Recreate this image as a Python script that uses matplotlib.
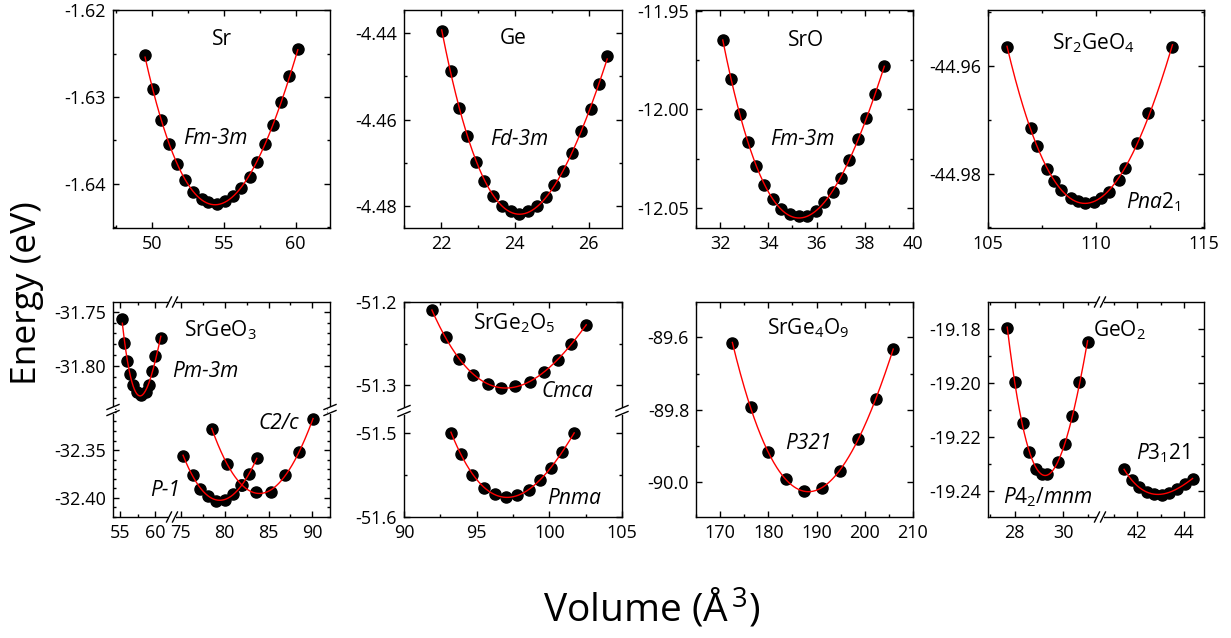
import numpy as np
import matplotlib.pyplot as plt
from matplotlib.ticker import MultipleLocator, FormatStrFormatter

plt.rcParams['font.family'] = ['Open Sans', 'DejaVu Sans']
plt.rcParams['mathtext.fontset'] = 'custom'
plt.rcParams['mathtext.rm'] = 'Open Sans'
plt.rcParams['mathtext.it'] = 'Open Sans:italic'
plt.rcParams['axes.unicode_minus'] = False
plt.rcParams['axes.linewidth'] = 1.0

# ---- data (volume in A^3, energy in eV) ----
sr_v = [49.53, 50.05, 50.61, 51.19, 51.75, 52.31, 52.90, 53.46, 53.93, 54.51,
        55.09, 55.65, 56.24, 56.80, 57.31, 57.87, 58.43, 59.02, 59.58, 60.16]
sr_e = [-1.6251, -1.6291, -1.6326, -1.6354, -1.6377, -1.6396, -1.6409, -1.6417, -1.6421, -1.6423,
        -1.6420, -1.6414, -1.6405, -1.6392, -1.6375, -1.6354, -1.6332, -1.6306, -1.6276, -1.6245]

ge_v = [22.02, 22.28, 22.49, 22.70, 22.94, 23.17, 23.42, 23.65, 23.89, 24.12,
        24.36, 24.59, 24.84, 25.07, 25.31, 25.56, 25.80, 26.06, 26.28, 26.50]
ge_e = [-4.4394, -4.4488, -4.4572, -4.4638, -4.4697, -4.4743, -4.4776, -4.4799, -4.4812, -4.4818,
        -4.4812, -4.4799, -4.4780, -4.4751, -4.4719, -4.4677, -4.4627, -4.4575, -4.4517, -4.4453]

sro_v = [32.11, 32.47, 32.81, 33.14, 33.47, 33.82, 34.19, 34.54, 34.90, 35.26,
         35.61, 35.97, 36.32, 36.67, 37.03, 37.36, 37.71, 38.07, 38.43, 38.81]
sro_e = [-11.9647, -11.9845, -12.0025, -12.0166, -12.0287, -12.0382, -12.0456, -12.0507, -12.0532, -12.0544,
         -12.0541, -12.0517, -12.0473, -12.0419, -12.0348, -12.0257, -12.0152, -12.0046, -11.9921, -11.9780]

s2g_v = [105.88, 106.98, 107.29, 107.72, 108.06, 108.40, 108.86, 109.15, 109.51,
         109.91, 110.25, 110.60, 111.05, 111.35, 111.89, 112.42, 113.54]
s2g_e = [-44.9566, -44.9716, -44.9749, -44.9792, -44.9814, -44.9831, -44.9845, -44.9851, -44.9854,
         -44.9852, -44.9846, -44.9835, -44.9812, -44.9790, -44.9744, -44.9688, -44.9565]

# SrGeO3: Pm-3m, P-1, C2/c
pm3m_v = [55.33, 55.57, 56.04, 56.43, 56.90, 57.38, 58.00, 58.71, 59.19, 59.62, 60.00, 60.81]
pm3m_e = [-31.7572, -31.7785, -31.7956, -31.8081, -31.8175, -31.8244, -31.8275, -31.8244,
          -31.8181, -31.8050, -31.7910, -31.7744]
p1_v = [75.26, 76.44, 77.16, 78.15, 79.06, 80.05, 80.96, 81.95, 82.78, 83.66]
p1_e = [-32.3562, -32.3759, -32.3904, -32.3983, -32.4028, -32.4017, -32.3959, -32.3862, -32.3752, -32.3586]
c2c_v = [78.53, 80.31, 81.90, 83.54, 85.25, 86.88, 88.47, 90.07]
c2c_e = [-32.3275, -32.3648, -32.3862, -32.3938, -32.3938, -32.3759, -32.3517, -32.3172]

# SrGe2O5: Cmca, Pnma
cmca_v = [91.92, 92.86, 93.81, 94.78, 95.75, 96.70, 97.67, 98.64, 99.61, 100.58, 101.52, 102.54]
cmca_e = [-51.2092, -51.2422, -51.2681, -51.2869, -51.2980, -51.3028, -51.3008, -51.2960,
          -51.2841, -51.2689, -51.2498, -51.2271]
pnma_v = [93.23, 93.95, 94.71, 95.50, 96.23, 97.02, 97.78, 98.59, 99.35, 100.09, 100.90, 101.71]
pnma_e = [-51.5000, -51.5252, -51.5500, -51.5660, -51.5732, -51.5768, -51.5748, -51.5680,
          -51.5560, -51.5420, -51.5228, -51.5000]

s4g_v = [172.54, 176.31, 179.95, 183.59, 187.30, 191.07, 194.85, 198.56, 202.26, 205.90]
s4g_e = [-89.6147, -89.7931, -89.9154, -89.9917, -90.0230, -90.0147, -89.9678, -89.8814, -89.7701, -89.6331]

# GeO2: P4_2/mnm, P3_121
rut_v = [27.69, 28.00, 28.33, 28.57, 28.87, 29.12, 29.32, 29.77, 30.07, 30.37, 30.65, 30.99]
rut_e = [-19.1798, -19.1997, -19.2149, -19.2256, -19.2320, -19.2338, -19.2336, -19.2293,
         -19.2225, -19.2123, -19.1997, -19.1850]
qtz_v = [41.43, 41.76, 42.07, 42.40, 42.73, 43.05, 43.37, 43.69, 44.02, 44.36]
qtz_e = [-19.2320, -19.2360, -19.2385, -19.2403, -19.2412, -19.2413, -19.2406, -19.2391, -19.2373, -19.2355]

# ---- layout in pixels ----
W, H = 1231, 638
cols = [(113, 330), (404, 622), (696, 913), (988, 1204)]
rows = [(10, 228), (302, 517)]

fig = plt.figure(figsize=(W / 100, H / 100), dpi=100)


def rect(l, t, r, b):
    return [l / W, 1 - b / H, (r - l) / W, (b - t) / H]


def style(ax, xmaj, ymaj, yfmt, sides):
    ax.xaxis.set_major_locator(MultipleLocator(xmaj))
    ax.xaxis.set_minor_locator(MultipleLocator(xmaj / 2))
    ax.yaxis.set_major_locator(MultipleLocator(ymaj))
    ax.yaxis.set_minor_locator(MultipleLocator(ymaj / 2))
    ax.yaxis.set_major_formatter(FormatStrFormatter(yfmt))
    ax.xaxis.set_major_formatter(FormatStrFormatter('%d'))
    left, right, top, bottom = sides
    ax.tick_params(which='both', direction='in', left=left, right=right, top=top, bottom=bottom,
                   labelleft=left, labelbottom=bottom, labelsize=13, pad=5)
    ax.tick_params(which='major', length=4, width=1)
    ax.tick_params(which='minor', length=2.5, width=1)
    for s, on in zip(['left', 'right', 'top', 'bottom'], sides):
        ax.spines[s].set_visible(on)


def curve(ax, v, e):
    c = np.polyfit(v, e, 3)
    vv = np.linspace(min(v), max(v), 200)
    ax.plot(v, e, 'o', color='black', ms=8, zorder=2)
    ax.plot(vv, np.polyval(c, vv), color='red', lw=1, zorder=3)


def label(col, row, fx, fy, s, italic=False):
    l, r = cols[col]
    t, b = rows[row]
    x = (l + fx * (r - l)) / W
    y = 1 - (t + (1 - fy) * (b - t)) / H
    fig.text(x, y, s, ha='center', va='center', fontsize=15,
             style='italic' if italic else 'normal')


# ---- top row ----
simple = [
    (0, sr_v, sr_e, (47.3, 62.4), (-1.6451, -1.61995), 5, 0.01, '%.2f'),
    (1, ge_v, ge_e, (21.0, 26.9), (-4.4851, -4.4346), 2, 0.02, '%.2f'),
    (2, sro_v, sro_e, (31.0, 40.0), (-12.0603, -11.9495), 2, 0.05, '%.2f'),
    (3, s2g_v, s2g_e, (105, 115), (-44.9901, -44.9497), 5, 0.02, '%.2f'),
]
for col, v, e, xl, yl, xm, ym, fmt in simple:
    ax = fig.add_axes(rect(cols[col][0], rows[0][0], cols[col][1], rows[0][1]))
    curve(ax, v, e)
    ax.set_xlim(*xl)
    ax.set_ylim(*yl)
    style(ax, xm, ym, fmt, (True, True, True, True))

label(0, 0, 0.50, 0.866, 'Sr')
label(0, 0, 0.47, 0.41, 'Fm-3m', True)
label(1, 0, 0.50, 0.87, 'Ge')
label(1, 0, 0.53, 0.404, 'Fd-3m', True)
label(2, 0, 0.505, 0.862, 'SrO')
label(2, 0, 0.49, 0.404, 'Fm-3m', True)
label(3, 0, 0.487, 0.847, 'Sr$_2$GeO$_4$')
label(3, 0, 0.766, 0.12, r'$\mathit{Pna2_1}$')

# ---- SrGeO3 (broken in x and y) ----
l, r = cols[0]
t, b = rows[1]
xb, yb = 172, 410
ax_tl = fig.add_axes(rect(l, t, xb, yb))
ax_tr = fig.add_axes(rect(xb, t, r, yb))
ax_bl = fig.add_axes(rect(l, yb, xb, b))
ax_br = fig.add_axes(rect(xb, yb, r, b))
curve(ax_tl, pm3m_v, pm3m_e)
curve(ax_br, p1_v, p1_e)
curve(ax_br, c2c_v, c2c_e)
for ax in (ax_tl, ax_bl):
    ax.set_xlim(54.0, 62.4)
for ax in (ax_tr, ax_br):
    ax.set_xlim(74.0, 92.0)
for ax in (ax_tl, ax_tr):
    ax.set_ylim(-31.841, -31.741)
for ax in (ax_bl, ax_br):
    ax.set_ylim(-32.42, -32.308)
style(ax_tl, 5, 0.05, '%.2f', (True, False, True, False))
style(ax_tr, 5, 0.05, '%.2f', (False, True, True, False))
style(ax_bl, 5, 0.05, '%.2f', (True, False, False, True))
style(ax_br, 5, 0.05, '%.2f', (False, True, False, True))
for ax in (ax_tl, ax_tr, ax_bl, ax_br):
    ax.yaxis.set_minor_locator(MultipleLocator(0.01))

label(0, 1, 0.493, 0.87, 'SrGeO$_3$')
label(0, 1, 0.424, 0.676, 'Pm-3m', True)
label(0, 1, 0.762, 0.436, 'C2/c', True)
label(0, 1, 0.24, 0.125, 'P-1', True)

# ---- SrGe2O5 (broken in y) ----
l, r = cols[1]
yb2 = 411
ax_t = fig.add_axes(rect(l, t, r, yb2))
ax_b = fig.add_axes(rect(l, yb2, r, b))
curve(ax_t, cmca_v, cmca_e)
curve(ax_b, pnma_v, pnma_e)
for ax in (ax_t, ax_b):
    ax.set_xlim(90, 105)
ax_t.set_ylim(-51.3307, -51.1995)
ax_b.set_ylim(-51.6005, -51.474)
style(ax_t, 5, 0.1, '%.1f', (True, True, True, False))
style(ax_b, 5, 0.1, '%.1f', (True, True, False, True))

label(1, 1, 0.504, 0.90, 'SrGe$_2$O$_5$')
label(1, 1, 0.75, 0.583, 'Cmca', True)
label(1, 1, 0.78, 0.087, 'Pnma', True)

# ---- SrGe4O9 ----
l, r = cols[2]
ax = fig.add_axes(rect(l, t, r, b))
curve(ax, s4g_v, s4g_e)
ax.set_xlim(165, 210)
ax.set_ylim(-90.095, -89.503)
style(ax, 10, 0.2, '%.1f', (True, True, True, True))
label(2, 1, 0.518, 0.878, 'SrGe$_4$O$_9$')
label(2, 1, 0.518, 0.343, 'P321', True)

# ---- GeO2 (broken in x) ----
l, r = cols[3]
xb3 = 1100
ax_l = fig.add_axes(rect(l, t, xb3, b))
ax_r = fig.add_axes(rect(xb3, t, r, b))
curve(ax_l, rut_v, rut_e)
curve(ax_r, qtz_v, qtz_e)
ax_l.set_xlim(26.9, 31.5)
ax_r.set_xlim(40.4, 44.85)
for ax in (ax_l, ax_r):
    ax.set_ylim(-19.2496, -19.1701)
style(ax_l, 2, 0.02, '%.2f', (True, False, True, True))
style(ax_r, 2, 0.02, '%.2f', (False, True, True, True))
label(3, 1, 0.611, 0.87, 'GeO$_2$')
label(3, 1, 0.812, 0.296, r'$\mathit{P3_121}$')
label(3, 1, 0.279, 0.094, r'$\mathit{P4_2/mnm}$')

# ---- break marks drawn on an overlay in pixel coordinates ----
ov = fig.add_axes([0, 0, 1, 1])
ov.set_xlim(0, W)
ov.set_ylim(H, 0)
ov.axis('off')


def brk_h(x, y):
    ov.plot([x - 3.5, x + 3.5], [y, y], color='white', lw=3, solid_capstyle='butt')
    for x0 in (x - 3, x + 3):
        ov.plot([x0 - 2.5, x0 + 2.5], [y + 5, y - 5], color='black', lw=1)


def brk_v(x, y):
    ov.plot([x, x], [y - 3.5, y + 3.5], color='white', lw=3, solid_capstyle='butt')
    for y0 in (y - 3, y + 3):
        ov.plot([x - 6, x + 6], [y0 + 2.5, y0 - 2.5], color='black', lw=1)


brk_h(xb, rows[1][0])
brk_h(xb, rows[1][1])
brk_v(cols[0][0], yb)
brk_v(cols[0][1], yb)
brk_v(cols[1][0], yb2)
brk_v(cols[1][1], yb2)
brk_h(xb3, rows[1][0])
brk_h(xb3, rows[1][1])

fig.text(0.022, 0.54, 'Energy (eV)', rotation=90, ha='center', va='center', fontsize=25.5)
fig.text(0.529, 0.045, r'Volume (Å$^{\,3}$)', ha='center', va='center', fontsize=28)

fig.savefig('out.png', dpi=100)
